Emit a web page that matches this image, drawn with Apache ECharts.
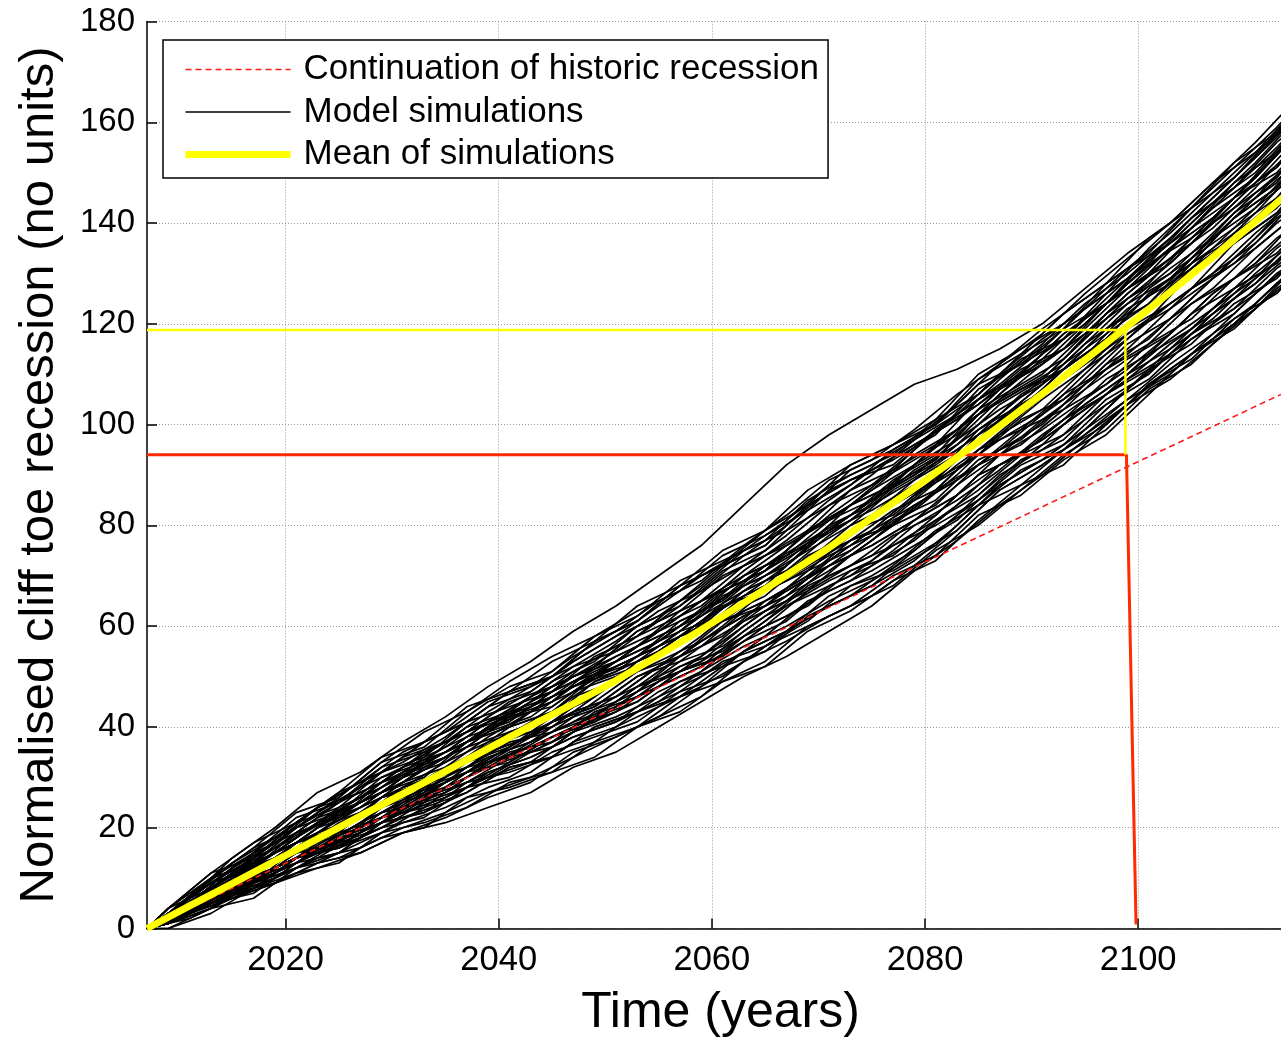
<!DOCTYPE html>
<html>
<head>
<meta charset="utf-8">
<script src="https://cdn.jsdelivr.net/npm/echarts@6/dist/echarts.min.js"></script>
<style>
html,body{margin:0;padding:0;background:#fff;}
#chart{width:1281px;height:1037px;}
</style>
</head>
<body>
<div id="chart"></div>
<script>
// ---- data ----
const years = [2007,2011,2015,2019,2023,2027,2031,2035,2039,2043,2047,2051,2055,2059,2063,2067,2071,2075,2079,2083,2087,2091,2095,2099,2103,2107,2111,2115];
const yearsB = [2007,2009,2013,2017,2021,2025,2029,2033,2037,2041,2045,2049,2053,2057,2061,2065,2069,2073,2077,2081,2085,2089,2093,2097,2101,2105,2109,2113,2117];

const meanValues = [0,4.5,8.9,13.4,17.8,22.3,26.7,31.2,35.7,40.2,44.6,49.2,54.2,59.3,64.6,70.1,75.6,81.5,87.4,93.5,99.7,106.1,112.8,119.5,126.3,133.2,140.3,147.7];

const historicYears = [2007, 2113.4];
const historicValues = [0, 106];

const redMarkYears = [2007, 2098.9, 2099.8];
const redMarkValues = [94, 94, 0.8];

const yellowMarkYears = [2007, 2098.8, 2098.8];
const yellowMarkValues = [118.8, 118.8, 94];

const xTickValues = [2020, 2040, 2060, 2080, 2100];

// simulations sampled at `years`
const simulationsA = [
[0,6,14,20,27,31,37,42,48,53,59,64,70,76,84,92,98,103,108,111,115,120,127,134,140,148,156,165],
[0,3,7,9,13,15,19,21,24,27,32,35,40,45,50,54,59,64,71,77,84,90,97,104,109,116,123,130],
[0,5,12,17,24,29,35,39,45,48,54,59,65,69,76,82,89,93,99,106,112,118,126,133,140,148,154,163],
[0,3,6,10,14,16,20,23,27,30,34,38,42,46,53,57,62,66,72,79,87,92,98,105,112,118,124,132],
[0,5,10,15,19,24,30,33,39,44,50,53,57,63,70,76,81,87,94,99,107,114,120,128,135,141,149,158],
[0,3,8,11,15,20,24,27,33,36,40,43,49,53,58,64,69,73,80,85,91,98,104,110,117,123,129,138],
[0,4,10,13,17,22,28,33,37,40,44,49,55,61,66,70,75,79,86,93,101,108,114,120,127,135,143,150],
[0,5,11,16,22,25,29,34,40,45,51,56,60,64,71,77,84,90,97,102,108,115,123,131,136,144,152,161],
[0,3,7,12,16,19,23,26,30,35,39,42,46,50,55,59,66,70,75,82,90,95,101,107,114,122,128,135],
[0,5,9,14,20,23,27,30,36,41,47,52,56,60,67,73,80,84,89,96,104,109,117,125,130,138,146,153],
[0,4,8,11,17,20,24,29,35,38,42,45,51,57,62,66,71,77,84,89,95,100,108,116,121,127,135,142],
[0,6,12,18,24,29,33,38,44,47,53,58,62,68,75,79,84,88,95,102,110,117,123,129,136,144,150,159],
[0,2,6,9,13,17,21,24,28,31,37,40,44,48,53,59,64,68,73,80,88,93,99,105,110,118,126,133],
[0,4,10,15,21,24,30,35,41,44,48,51,57,63,70,74,79,85,92,99,105,110,118,126,133,139,147,156],
[0,3,7,10,16,21,25,28,32,37,43,46,50,54,61,67,72,76,81,86,94,101,107,113,118,126,132,139],
[0,5,11,14,20,25,31,36,42,47,53,58,64,70,75,81,88,92,97,104,112,119,125,131,138,146,154,161],
[0,4,9,12,16,19,23,28,32,35,39,44,48,52,57,61,68,72,77,84,92,97,103,109,116,122,128,137],
[0,5,10,14,20,25,29,32,38,43,47,50,54,60,67,71,76,82,89,94,100,107,115,123,128,134,142,151],
[0,3,9,12,16,21,27,32,36,39,43,46,52,58,65,69,74,78,83,90,98,105,111,117,124,130,136,145],
[0,5,12,17,23,28,32,35,41,46,50,55,61,67,72,76,81,85,90,97,105,112,120,128,135,143,149,158],
[0,3,7,11,15,18,22,25,31,34,38,41,45,51,58,62,67,71,76,81,89,96,104,110,115,121,129,136],
[0,4,10,14,18,23,29,34,40,43,49,54,58,62,69,75,82,88,93,98,106,113,121,127,132,140,148,157],
[0,3,8,13,19,22,26,29,33,38,44,49,53,57,62,66,73,79,86,91,97,102,108,114,121,129,135,142],
[0,5,11,15,21,26,32,37,41,46,52,57,63,67,74,80,87,91,96,101,109,116,124,130,137,145,153,162],
[0,4,8,12,16,21,25,28,34,37,41,46,52,56,61,65,70,74,81,88,94,99,105,111,118,126,132,141],
[0,3,6,9,12,15,19,22,26,29,35,38,42,48,55,59,64,68,75,82,88,93,99,107,114,120,126,133],
[0,5,10,15,21,26,30,35,39,42,48,53,59,65,70,74,81,87,92,97,103,108,116,124,131,137,143,152],
[0,4,8,11,15,18,24,29,33,36,40,45,49,53,60,66,73,79,84,89,95,102,110,118,123,129,137,146],
[0,5,11,16,21,26,32,37,43,48,52,55,59,63,68,72,79,85,92,99,107,112,118,124,129,137,145,154],
[0,3,8,11,17,20,24,27,31,34,38,41,47,51,56,60,65,69,74,79,87,92,98,104,111,117,123,132],
[0,5,9,13,19,24,28,31,35,40,46,49,55,61,68,74,79,83,88,93,101,106,112,120,127,133,141,148],
[0,6,13,18,24,27,31,34,40,45,49,52,56,62,67,71,78,84,91,96,102,109,117,125,132,140,148,155],
[0,3,7,10,14,19,23,26,30,33,39,44,48,52,59,65,72,76,81,86,92,97,103,109,114,122,130,137],
[0,4,10,15,19,22,28,31,35,38,44,49,55,59,66,72,79,85,90,95,101,108,116,122,129,137,145,152],
[0,3,7,12,16,19,25,30,34,37,41,44,50,56,63,67,72,78,85,92,98,103,111,119,124,130,138,145],
[0,5,11,17,23,28,34,37,41,44,48,53,59,65,72,78,85,91,96,101,107,112,118,126,133,141,149,158]
];

// simulations sampled at `yearsB`
const simulationsB = [
[0,3,10,13,20,23,30,33,40,43,49,53,60,64,71,75,83,88,95,100,109,114,122,128,137,143,152,158,168],
[0,2,5,10,13,18,21,26,29,34,36,42,45,51,54,60,64,71,74,81,86,93,97,105,110,118,123,131,137],
[0,3,9,12,18,23,27,33,37,42,44,50,53,59,62,68,72,79,82,89,94,101,105,113,121,127,136,142,152],
[0,1,7,9,15,17,23,28,31,36,42,46,53,57,64,68,76,81,88,93,102,107,111,119,124,132,137,145,151],
[0,4,11,14,21,27,31,37,41,47,50,57,61,68,72,79,84,92,96,100,108,112,119,124,132,137,145,150,159],
[0,1,4,9,12,15,21,23,29,31,34,40,43,47,53,56,61,68,71,76,84,88,95,100,108,113,121,126,135],
[0,3,7,13,17,20,26,28,34,40,43,50,54,58,64,67,74,78,84,91,96,103,111,117,126,132,141,147,157],
[0,1,5,8,14,16,22,24,30,35,37,43,46,52,55,61,68,72,78,82,90,94,101,109,114,122,127,135,141],
[0,4,10,16,20,26,33,36,43,48,51,58,62,69,73,77,85,90,94,101,106,113,117,125,133,141,149,157,166],
[0,0,4,6,12,14,18,20,26,28,31,34,40,43,49,52,59,63,69,73,81,88,92,100,108,114,120,128,134],
[0,2,8,11,15,21,25,28,34,39,42,46,52,58,62,66,73,80,84,89,97,104,109,115,123,131,137,143,152],
[0,3,9,15,19,25,29,35,39,42,48,52,59,63,70,74,79,87,91,99,105,110,118,124,133,139,148,154,164],
[0,1,5,10,13,18,21,26,32,34,39,42,48,51,57,63,67,74,80,87,92,99,103,111,116,124,129,137,143],
[0,3,10,13,17,23,27,30,37,40,46,50,54,61,65,72,77,82,89,94,103,108,113,122,128,137,143,149,159],
[0,1,6,8,14,16,19,24,27,32,34,37,43,46,52,55,62,66,72,79,84,91,95,103,111,116,124,129,138],
[0,4,8,14,21,24,31,34,41,44,47,54,58,65,72,76,84,89,93,98,107,112,117,126,132,141,147,156,163],
[0,2,6,9,16,19,26,29,33,36,41,44,50,54,61,65,70,77,80,87,95,99,106,111,119,127,132,140,146],
[0,3,9,14,18,24,28,34,38,41,47,51,55,59,66,70,75,80,87,92,98,106,111,117,123,132,138,144,154],
[0,1,5,7,13,15,21,23,27,32,34,40,43,49,52,58,65,69,75,82,90,94,101,106,114,119,127,132,141],
[0,3,7,12,19,22,29,32,36,42,45,52,56,63,67,71,76,84,88,96,102,110,115,124,130,136,145,151,161],
[0,1,7,10,14,19,22,27,33,38,40,46,53,57,61,64,71,75,81,85,93,97,104,112,117,125,133,141,147],
[0,4,10,16,23,26,33,39,43,49,54,58,63,67,74,78,83,91,95,100,106,114,119,128,134,143,149,158,165],
[0,1,4,9,12,17,20,22,28,30,35,38,41,47,50,56,60,64,70,74,82,86,93,98,106,114,119,127,133],
[0,3,9,12,16,22,26,32,36,39,42,49,53,57,61,68,73,78,85,90,99,104,109,118,124,133,139,145,155],
[0,2,5,8,14,16,20,25,28,33,38,41,47,54,58,65,70,74,80,84,92,96,103,108,116,121,129,134,143],
[0,3,9,14,20,25,31,37,41,47,50,57,61,68,72,76,84,89,92,99,104,111,115,123,131,139,147,155,164],
[0,1,6,9,15,17,23,25,31,36,41,44,50,53,56,62,66,70,76,80,85,92,96,104,109,117,122,130,136],
[0,4,11,17,21,27,34,37,44,47,53,57,64,68,75,79,87,92,96,101,110,115,120,126,135,143,151,159,168],
[0,1,7,10,17,20,24,29,32,37,39,45,51,54,60,67,72,77,83,87,95,102,109,115,121,130,136,142,151],
[0,3,8,13,19,22,28,33,37,43,46,50,56,60,67,71,79,84,91,96,105,110,118,124,130,139,145,154,161],
[0,0,3,8,11,13,19,21,24,29,31,37,40,46,49,53,60,64,68,75,80,87,94,99,107,112,120,128,134],
[0,2,8,13,17,23,27,33,37,40,43,49,52,58,61,67,71,78,84,89,98,103,111,117,126,132,141,147,157],
[0,1,5,10,14,17,24,27,31,33,38,41,45,51,54,60,67,72,76,81,87,94,98,106,111,119,127,132,141],
[0,3,10,15,22,25,32,35,39,45,48,52,59,63,67,71,79,84,88,93,102,107,112,118,127,133,142,148,158]
];

// ---- chart ----
const FONT = '"Liberation Sans", Arial, Helvetica, sans-serif';
const pairs = (xs, ys) => xs.map((x, i) => [x, ys[i]]);

function simSeries(xs, vals) {
  return {
    name: 'Model simulations',
    type: 'line',
    data: pairs(xs, vals),
    symbol: 'none',
    silent: true,
    z: 2,
    lineStyle: { color: '#000', width: 1.7 },
    itemStyle: { color: '#000' }
  };
}

const series = [];
simulationsA.forEach(v => series.push(simSeries(years, v)));
simulationsB.forEach(v => series.push(simSeries(yearsB, v)));

series.push({
  name: 'Continuation of historic recession',
  type: 'line',
  data: pairs(historicYears, historicValues),
  symbol: 'none', silent: true, z: 3,
  lineStyle: { color: '#ff1a1a', width: 1.6, type: [6, 4] },
  itemStyle: { color: '#ff1a1a' }
});
series.push({
  name: 'threshold red',
  type: 'line',
  data: pairs(redMarkYears, redMarkValues),
  symbol: 'none', silent: true, z: 4,
  lineStyle: { color: '#ff2a00', width: 3 },
  itemStyle: { color: '#ff2a00' }
});
series.push({
  name: 'threshold yellow',
  type: 'line',
  data: pairs(yellowMarkYears, yellowMarkValues),
  symbol: 'none', silent: true, z: 4,
  lineStyle: { color: '#ffff00', width: 2.5 },
  itemStyle: { color: '#ffff00' }
});
series.push({
  name: 'Mean of simulations',
  type: 'line',
  data: pairs(years, meanValues),
  symbol: 'none', silent: true, z: 5,
  lineStyle: { color: '#ffff00', width: 7, join: 'round' },
  itemStyle: { color: '#ffff00' }
});

const chart = echarts.init(document.getElementById('chart'), null, { renderer: 'canvas' });
chart.setOption({
  animation: false,
  backgroundColor: '#fff',
  textStyle: { fontFamily: FONT },
  grid: { left: 147, right: 0, top: 21.5, bottom: 108.5, containLabel: false, outerBoundsMode: 'none' },
  legend: {
    orient: 'vertical',
    left: 163, top: 40,
    backgroundColor: '#fff',
    borderColor: '#000',
    borderWidth: 1.5,
    padding: [12, 9, 6, 19],
    itemWidth: 105,
    itemHeight: 14,
    itemGap: 7.5,
    z: 10,
    selectedMode: false,
    textStyle: { fontSize: 35, color: '#000', fontFamily: FONT, padding: [0, 0, 0, 8], lineHeight: 35 },
    data: [
      { name: 'Continuation of historic recession', lineStyle: { width: 1.5 }, itemStyle: { opacity: 0 } },
      { name: 'Model simulations', lineStyle: { width: 1.5 }, itemStyle: { opacity: 0 } },
      { name: 'Mean of simulations', lineStyle: { width: 7 }, itemStyle: { opacity: 0 } }
    ]
  },
  xAxis: {
    type: 'value',
    min: 2007,
    max: 2113.4,
    name: 'Time (years)',
    nameLocation: 'middle',
    nameGap: 60,
    nameTextStyle: { fontSize: 50, color: '#000', fontFamily: FONT, padding: [0, 0, 0, 13] },
    axisLine: { show: true, onZero: false, lineStyle: { color: '#000', width: 1.5 } },
    axisTick: { show: true, inside: true, length: 10, customValues: xTickValues, lineStyle: { color: '#000', width: 1.5 } },
    axisLabel: { customValues: xTickValues, fontSize: 34.5, color: '#000', margin: 14, fontFamily: FONT, formatter: v => String(v) },
    splitLine: { show: true, lineStyle: { type: [1, 2], color: '#999', width: 1 } }
  },
  yAxis: {
    type: 'value',
    min: 0,
    max: 180,
    interval: 20,
    name: 'Normalised cliff toe recession (no units)',
    nameLocation: 'middle',
    nameGap: 83,
    nameTextStyle: { fontSize: 49, color: '#000', fontFamily: FONT },
    axisLine: { show: true, onZero: false, lineStyle: { color: '#000', width: 1.5 } },
    axisTick: { show: true, inside: true, length: 10, lineStyle: { color: '#000', width: 1.5 } },
    axisLabel: { fontSize: 33, color: '#000', margin: 12, fontFamily: FONT },
    splitLine: { show: true, lineStyle: { type: [1, 2], color: '#999', width: 1 } }
  },
  series: series
});
</script>
</body>
</html>
